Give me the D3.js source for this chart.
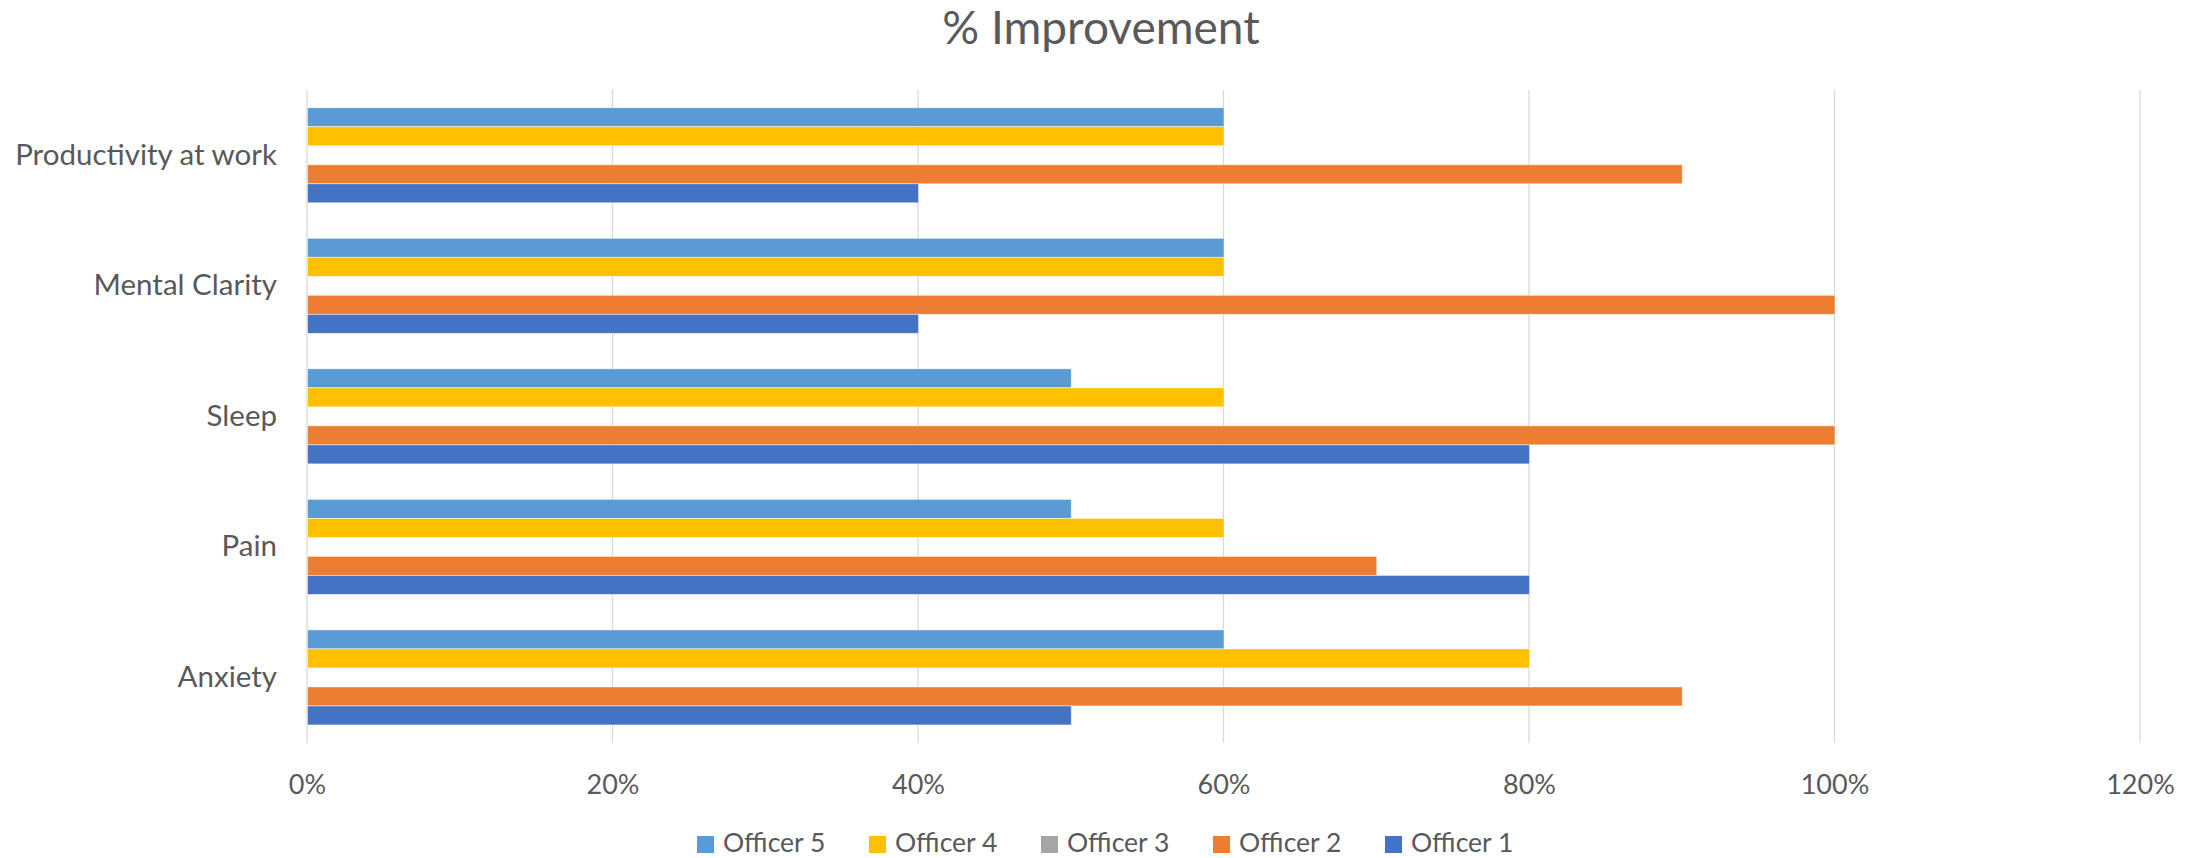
<!DOCTYPE html>
<html lang="en">
  <head>
    <meta charset="utf-8" />
    <title>% Improvement</title>
    <script src="https://d3js.org/d3.v7.min.js"></script>
    <style>
      body { margin: 0; background: #fff; }
      text { font-family: Lato, "Open Sans", sans-serif; fill: #595959; }
    </style>
  </head>
  <body>
    <script type="text/javascript">
      // categories, top to bottom as drawn
      const categories = ["Productivity at work", "Mental Clarity", "Sleep", "Pain", "Anxiety"];
      // series, top to bottom inside each group (also legend order)
      const officers = ["Officer 5", "Officer 4", "Officer 3", "Officer 2", "Officer 1"];
      const colors = ["#5B9BD5", "#FFC000", "#A5A5A5", "#ED7D31", "#4472C4"];

      // values per officer, in the order of categories
      const officer5 = [0.6, 0.6, 0.5, 0.5, 0.6];
      const officer4 = [0.6, 0.6, 0.6, 0.6, 0.8];
      const officer3 = [0, 0, 0, 0, 0];
      const officer2 = [0.9, 1.0, 1.0, 0.7, 0.9];
      const officer1 = [0.4, 0.4, 0.8, 0.8, 0.5];
      const seriesValues = [officer5, officer4, officer3, officer2, officer1];

      const xTicks = [0, 0.2, 0.4, 0.6, 0.8, 1.0, 1.2];

      const w = 2203;
      const h = 858;
      const plotLeft = 307, plotRight = 2140, plotTop = 90, plotBottom = 742.7;

      const svg = d3.select("body").append("svg")
        .attr("width", w)
        .attr("height", h);

      const x = d3.scaleLinear().domain([0, 1.2]).range([plotLeft, plotRight]);

      const y = d3.scaleBand()
        .domain(categories)
        .range([plotTop, plotBottom])
        .paddingInner(0.272)
        .paddingOuter(0.136);

      const yInner = d3.scaleBand()
        .domain(officers)
        .range([0, y.bandwidth()]);

      // gridlines
      svg.append("g")
        .selectAll("line")
        .data(xTicks)
        .enter()
        .append("line")
        .attr("x1", d => x(d))
        .attr("x2", d => x(d))
        .attr("y1", plotTop)
        .attr("y2", plotBottom)
        .attr("stroke", "#D9D9D9")
        .attr("stroke-width", 1.3);

      // bars
      const rows = [];
      categories.forEach((c, ci) => {
        officers.forEach((o, oi) => {
          rows.push({ cat: c, officer: o, value: seriesValues[oi][ci], color: colors[oi] });
        });
      });

      svg.append("g")
        .selectAll("rect")
        .data(rows.filter(d => d.value > 0))
        .enter()
        .append("rect")
        .attr("x", x(0) + 0.5)
        .attr("y", d => y(d.cat) + yInner(d.officer))
        .attr("width", d => x(d.value) - x(0))
        .attr("height", yInner.bandwidth())
        .attr("fill", d => d.color)
        .attr("stroke", "#fff")
        .attr("stroke-opacity", 0.6)
        .attr("stroke-width", 0.8);

      // x axis (no line, labels only)
      const xAxis = d3.axisBottom(x)
        .tickValues(xTicks)
        .tickFormat(d3.format(".0%"))
        .tickSize(0)
        .tickPadding(0);

      const gx = svg.append("g")
        .attr("transform", "translate(0," + 775 + ")")
        .call(xAxis);
      gx.select(".domain").remove();
      gx.selectAll("text")
        .attr("font-size", "27px")
        .attr("dy", "0.7em")
        .style("font-family", null);

      // y axis labels
      const yAxis = d3.axisLeft(y).tickSize(0).tickPadding(30);
      const gy = svg.append("g")
        .attr("transform", "translate(" + plotLeft + ",0)")
        .call(yAxis);
      gy.select(".domain").remove();
      gy.selectAll("text")
        .attr("font-size", "29.5px")
        .style("font-family", null);

      // title
      svg.append("text")
        .attr("x", 1101)
        .attr("y", 44)
        .attr("text-anchor", "middle")
        .attr("font-size", "46px")
        .text("% Improvement");

      // legend
      const legend = svg.append("g")
        .selectAll("g")
        .data(officers)
        .enter()
        .append("g")
        .attr("transform", (d, i) => "translate(" + (697 + i * 172) + ",836)");

      legend.append("rect")
        .attr("width", 17)
        .attr("height", 17)
        .attr("fill", (d, i) => colors[i]);

      legend.append("text")
        .attr("x", 26)
        .attr("y", 16)
        .attr("font-size", "26.5px")
        .text(d => d);
    </script>
  </body>
</html>
